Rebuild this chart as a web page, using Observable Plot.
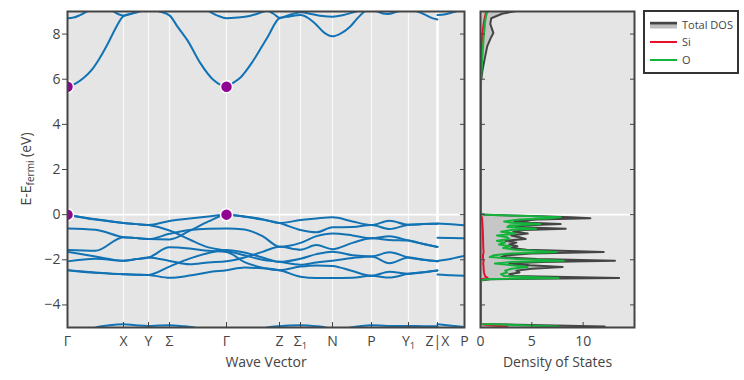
<!DOCTYPE html>
<html><head><meta charset="utf-8">
<script src="https://cdn.jsdelivr.net/npm/d3@7"></script>
<script src="https://cdn.jsdelivr.net/npm/@observablehq/plot@0.6"></script>
<style>
body{margin:0;background:#fff;font-family:'Open Sans',sans-serif;}
#wrap{position:relative;width:744px;height:380px;overflow:hidden;background:#fff;}
#wrap > svg{position:absolute;top:0;}
</style></head><body><div id="wrap"></div>
<script>
// ---------- high-symmetry path ----------
const kTicks  = [0, 56, 81, 102, 159, 212, 233, 265, 304, 341, 370, 397];
const kLabels = ["Γ", "X", "Y", "Σ", "Γ", "Z", "Σ1", "N", "P", "Y1", "Z|X", "P"];
const yTicks  = [-4, -2, 0, 2, 4, 6, 8];
const dosTicks = [0, 5, 10];

// sample k positions along Γ-X-Y-Σ-Γ-Z-Σ1-N-P-Y1-Z
const kPath = [0, 28, 56, 69, 81, 102, 122, 141, 159, 177, 195, 212, 233, 249, 265, 285, 304, 322, 341, 356, 370];
// valence bands (eV) at kPath
const vb1 = [0, -0.2, -0.37, -0.42, -0.46, -0.28, -0.17, -0.08, 0, -0.08, -0.2, -0.37, -0.24, -0.17, -0.12, -0.3, -0.46, -0.27, -0.45, -0.42, -0.4];
const vb2 = [0, -0.22, -0.37, -0.42, -0.46, -0.7, -1.1, -1.45, -1.6, -1.8, -2.0, -2.09, -2.22, -2.12, -2.04, -1.92, -1.85, -2.15, -1.9, -2.0, -2.07];
const vb3 = [-0.61, -0.67, -1.0, -1.04, -1.08, -1.1, -0.72, -0.3, 0, -0.09, -0.22, -0.37, -0.68, -0.78, -0.56, -0.55, -0.46, -0.64, -0.45, -0.42, -0.4];
const vb4 = [-1.57, -1.6, -1.0, -1.04, -1.08, -0.85, -0.68, -0.62, -0.61, -0.66, -0.95, -1.42, -1.25, -0.95, -0.83, -0.92, -1.05, -0.96, -1.15, -1.3, -1.43];
const vb5 = [-1.65, -1.85, -2.04, -1.97, -1.9, -1.45, -1.5, -1.6, -1.65, -2.1, -2.35, -2.46, -2.3, -2.25, -2.27, -2.5, -2.71, -2.53, -2.62, -2.55, -2.47];
const vb6 = [-2.07, -1.95, -2.04, -1.97, -1.9, -2.05, -2.2, -2.12, -2.07, -1.9, -1.65, -1.42, -1.55, -1.35, -1.53, -1.25, -1.05, -1.12, -1.15, -1.3, -1.43];
const vb7 = [-2.46, -2.56, -2.64, -2.66, -2.67, -2.3, -1.95, -1.7, -1.57, -1.68, -1.9, -2.09, -1.95, -1.75, -1.64, -1.8, -1.85, -1.67, -1.9, -2.0, -2.07];
const vb8 = [-2.46, -2.58, -2.64, -2.66, -2.67, -2.8, -2.7, -2.55, -2.46, -2.34, -2.38, -2.46, -2.75, -2.81, -2.81, -2.8, -2.71, -2.79, -2.62, -2.55, -2.47];

// X-P branch
const kXP = [370, 384, 397];
const xp1 = [-0.39, -0.43, -0.47];
const xp2 = [-1.02, -1.03, -1.05];
const xp3 = [-2.05, -1.95, -1.83];
const xp4 = [-2.65, -2.69, -2.71];

// conduction bands [k, E]
const cb1 = [[0,5.67],[8,5.8],[16,6.05],[24,6.4],[32,6.92],[40,7.55],[48,8.25],[56,8.8],[68,8.95],[81,9.08],[92,9.0],[102,8.83],[110,8.33],[120,7.72],[133,6.7],[146,5.96],[153,5.75],[159,5.67],[166,5.85],[173,6.08],[186,6.84],[200,7.86],[212,8.7],[222,8.78],[233,8.84],[241,8.7],[248,8.45],[257,8.05],[265,7.9],[273,8.02],[282,8.3],[290,8.7],[297,9.0],[304,9.15],[310,9.0],[320,8.89],[330,9.0],[340,9.12],[350,9.0],[358,8.85],[364,8.72],[370,8.65]];
const cb1XP = [[370,8.84],[378,8.88],[388,9.0],[397,9.12]];
const cb2 = [[0,8.7],[6,8.73],[12,8.83],[20,9.02],[28,9.25],[40,9.2],[46,9.0],[51,8.88],[56,8.82],[64,8.9],[72,9.02],[81,9.2],[102,9.35],[125,9.3],[140,9.04],[150,8.82],[159,8.7],[170,8.73],[182,8.8],[192,8.93],[200,9.03],[206,8.9],[212,8.72],[222,8.85],[233,8.97],[245,8.88],[255,8.8],[265,8.77],[275,8.83],[286,8.97],[295,9.1],[304,9.3],[341,9.3],[370,9.3]];
// semi-core bands [k, E]
const bb1 = [[22,-5.1],[30,-4.98],[42,-4.9],[56,-4.86],[68,-4.9],[81,-4.93],[92,-4.91],[102,-4.9],[115,-4.94],[125,-4.99],[135,-5.1]];
const bb2 = [[190,-5.1],[200,-5.0],[212,-4.94],[222,-4.91],[233,-4.9],[248,-4.94],[258,-5.0],[266,-5.1]];
const bb3 = [[274,-5.1],[283,-5.0],[294,-4.93],[304,-4.9],[320,-4.93],[341,-4.93],[356,-4.94],[370,-4.94]];
const bbXP = [[370,-4.86],[384,-4.92],[397,-4.98]];

// band edges
const edgeK = [0, 159, 0, 159];
const edgeE = [0, 0, 5.67, 5.67];

// ---------- DOS ----------
const dosE     = [-5.1, -5.05, -4.96, -4.9, -4.84, -2.92, -2.86, -2.81, -2.72, -2.64, -2.56, -2.48, -2.4, -2.32, -2.24, -2.16, -2.1, -2.04, -1.96, -1.88, -1.8, -1.72, -1.65, -1.56, -1.48, -1.4, -1.32, -1.24, -1.16, -1.08, -1.0, -0.92, -0.84, -0.76, -0.68, -0.62, -0.55, -0.48, -0.42, -0.36, -0.3, -0.22, -0.16, -0.11, -0.06, -0.01, 0.05, 5.55, 5.9, 6.4, 7.0, 7.45, 7.8, 8.05, 8.25, 8.45, 8.7, 8.9, 9.0, 9.1];
const dosTotal = [10, 12, 12.1, 6, 0, 0, 1.0, 13.5, 3.2, 2.8, 3.8, 3.5, 5.0, 8.0, 4.8, 2.8, 6.0, 13.1, 5.5, 2.0, 2.5, 5.0, 12.0, 4.5, 3.0, 3.6, 2.8, 3.5, 2.4, 4.4, 3.8, 3.0, 4.6, 3.2, 4.2, 8.3, 3.4, 4.0, 7.8, 4.8, 3.3, 5.5, 10.7, 8.8, 5.0, 0.5, 0, 0, 0.05, 0.2, 0.45, 0.65, 0.97, 1.25, 1.1, 0.95, 1.05, 2.1, 3.2, 4.5];
const dosSi    = [2.2, 2.5, 2.6, 0.8, 0, 0, 0.1, 0.7, 0.45, 0.38, 0.34, 0.32, 0.3, 0.3, 0.28, 0.26, 0.28, 0.3, 0.26, 0.24, 0.24, 0.28, 0.3, 0.28, 0.27, 0.27, 0.26, 0.26, 0.25, 0.25, 0.24, 0.24, 0.23, 0.23, 0.22, 0.22, 0.2, 0.2, 0.18, 0.18, 0.17, 0.16, 0.14, 0.12, 0.08, 0.03, 0, 0, 0.01, 0.03, 0.08, 0.12, 0.15, 0.2, 0.25, 0.3, 0.4, 0.5, 0.6, 0.8];
const dosO     = [6, 7.5, 7.6, 4, 0, 0, 0.5, 7.6, 2.3, 2.0, 2.6, 2.4, 3.0, 4.6, 3.0, 1.4, 3.0, 8.1, 3.5, 0.9, 1.3, 3.0, 7.4, 3.4, 2.2, 2.9, 1.8, 2.4, 1.6, 2.8, 2.6, 1.6, 3.4, 2.0, 3.0, 5.4, 2.6, 2.8, 5.8, 3.0, 2.3, 3.8, 6.8, 7.8, 4.5, 0.4, 0, 0, 0.04, 0.1, 0.18, 0.25, 0.3, 0.35, 0.4, 0.42, 0.5, 0.6, 0.7, 0.9];

const legendNames  = ["Total DOS", "Si", "O"];
const legendColors = ["#444444", "#e8112d", "#14b43c"];

// ---------- build tables ----------
const bandPts = [];
[vb1, vb2, vb3, vb4, vb5, vb6, vb7, vb8].forEach((row, i) =>
  row.forEach((e, j) => bandPts.push({k: kPath[j], e, id: "v" + i})));
[xp1, xp2, xp3, xp4].forEach((row, i) =>
  row.forEach((e, j) => bandPts.push({k: kXP[j], e, id: "xp" + i})));
[cb1, cb1XP, cb2, bb1, bb2, bb3, bbXP].forEach((arr, i) =>
  arr.forEach(([k, e]) => bandPts.push({k, e, id: "c" + i})));
const edges = edgeK.map((k, i) => ({k, e: edgeE[i]}));
const dosRows = dosE.map((e, i) => ({e, t: dosTotal[i], s: dosSi[i], o: dosO[i]}));

const labelMap = new Map(kTicks.map((k, i) => [k, kLabels[i]]));
const fmtY = d => d < 0 ? "\u2212" + (-d) : String(d);
const FONT = "'Open Sans', sans-serif";
const style = {background: "transparent", fontFamily: FONT, fontSize: "14px", color: "#444"};
const BLUE = "#1172b4";

const band = Plot.plot({
  width: 470, height: 380,
  marginLeft: 67, marginRight: 6, marginTop: 11, marginBottom: 53,
  style,
  x: {domain: [0, 397], label: null},
  y: {domain: [-5, 9], label: null},
  marks: [
    Plot.frame({fill: "#e5e5e5"}),
    Plot.ruleX(kTicks, {stroke: "white", strokeWidth: 1.2, strokeOpacity: 0.75}),
    Plot.ruleX([kTicks[10]], {stroke: "white", strokeWidth: 2.5}),
    Plot.ruleY([0], {stroke: "white", strokeWidth: 1.6}),
    Plot.line(bandPts, {x: "k", y: "e", z: "id", stroke: BLUE, strokeWidth: 2, curve: "monotone-x", clip: true}),
    Plot.dot(edges, {x: "k", y: "e", r: 6, fill: "#900592", stroke: "white", strokeWidth: 1.5, clip: true}),
    Plot.axisY({ticks: yTicks, tickSize: 5, tickPadding: 2, tickFormat: fmtY, label: null}),
    Plot.axisY({anchor: "right", ticks: yTicks, tickSize: 5, dx: -5, tickFormat: () => "", label: null}),
    Plot.axisX({ticks: kTicks, tickSize: 0, tickPadding: 9, tickFormat: d => labelMap.get(d), label: null}),
    Plot.axisX({ticks: kTicks, tickSize: 5, dy: -5, tickFormat: () => "", label: null}),
    Plot.text(["Wave Vector"], {text: d => d, frameAnchor: "bottom", dy: 39, fontSize: 14, fill: "#444"}),
    Plot.frame({stroke: "#444", strokeWidth: 2})
  ]
});

// subscripts in tick labels
band.querySelectorAll("text").forEach(t => {
  const s = t.textContent;
  if (s === "Σ1" || s === "Y1") {
    t.textContent = "";
    const ns = "http://www.w3.org/2000/svg";
    const a = document.createElementNS(ns, "tspan"); a.textContent = s[0];
    const b = document.createElementNS(ns, "tspan"); b.textContent = "1";
    b.setAttribute("dy", "2.5"); b.setAttribute("font-size", "9.5");
    t.appendChild(a); t.appendChild(b);
  }
});
// y axis title
{
  const lbl = d3.select(band).append("text")
    .attr("transform", "translate(31,169) rotate(-90)")
    .attr("text-anchor", "middle").attr("fill", "#444")
    .attr("font-size", 14).attr("font-family", FONT);
  lbl.append("tspan").text("E-E");
  lbl.append("tspan").attr("dy", 3).attr("font-size", 10).text("fermi");
  lbl.append("tspan").attr("dy", -3).text(" (eV)");
}

const dos = Plot.plot({
  width: 174, height: 380,
  marginLeft: 10, marginRight: 10, marginTop: 11, marginBottom: 53,
  style,
  x: {domain: [0, 15], label: null},
  y: {domain: [-5, 9], label: null},
  marks: [
    Plot.frame({fill: "#e5e5e5"}),
    Plot.areaX(dosRows, {x: "t", y: "e", fill: "#c6c6c6", clip: true}),
    Plot.ruleY([0], {stroke: "white", strokeWidth: 1.6}),
    Plot.line(dosRows, {x: "t", y: "e", stroke: legendColors[0], strokeWidth: 2, clip: true}),
    Plot.line(dosRows, {x: "s", y: "e", stroke: legendColors[1], strokeWidth: 2, clip: true}),
    Plot.line(dosRows, {x: "o", y: "e", stroke: legendColors[2], strokeWidth: 2, clip: true}),
    Plot.axisX({ticks: dosTicks, tickSize: 0, tickPadding: 9, tickFormat: d => String(d), label: null}),
    Plot.axisX({ticks: dosTicks, tickSize: 5, dy: -5, tickFormat: () => "", label: null}),
    Plot.axisY({anchor: "left", ticks: yTicks, tickSize: 5, dx: 5, tickFormat: () => "", label: null}),
    Plot.axisY({anchor: "right", ticks: yTicks, tickSize: 5, dx: -5, tickFormat: () => "", label: null}),
    Plot.text(["Density of States"], {text: d => d, frameAnchor: "bottom", dy: 39, fontSize: 14, fill: "#444"}),
    Plot.frame({stroke: "#444", strokeWidth: 2})
  ]
});

const wrap = document.getElementById("wrap");
band.style.left = "0px";
dos.style.left = "470px";
wrap.appendChild(band);
wrap.appendChild(dos);

// legend
const leg = d3.create("svg").attr("width", 96).attr("height", 65)
  .style("left", "643px").style("top", "10px").style("position", "absolute");
leg.append("rect").attr("x", 1).attr("y", 1).attr("width", 94).attr("height", 62)
  .attr("fill", "white").attr("stroke", "#333").attr("stroke-width", 2);
const rowY = [15, 32, 50];
legendNames.forEach((name, i) => {
  const g = leg.append("g").attr("transform", `translate(0,${rowY[i]})`);
  if (i === 0) {
    g.append("rect").attr("x", 7).attr("y", -3.5).attr("width", 27).attr("height", 7).attr("fill", "#bdbdbd");
    g.append("line").attr("x1", 7).attr("x2", 34).attr("y1", -1.8).attr("y2", -1.8)
      .attr("stroke", legendColors[i]).attr("stroke-width", 2.5);
  } else {
    g.append("line").attr("x1", 7).attr("x2", 34).attr("y1", 0).attr("y2", 0)
      .attr("stroke", legendColors[i]).attr("stroke-width", 2);
  }
  g.append("text").attr("x", 39).attr("y", 0).attr("dy", "0.35em")
    .attr("font-family", FONT).attr("font-size", 11).attr("fill", "#444").text(name);
});
wrap.appendChild(leg.node());
</script></body></html>
